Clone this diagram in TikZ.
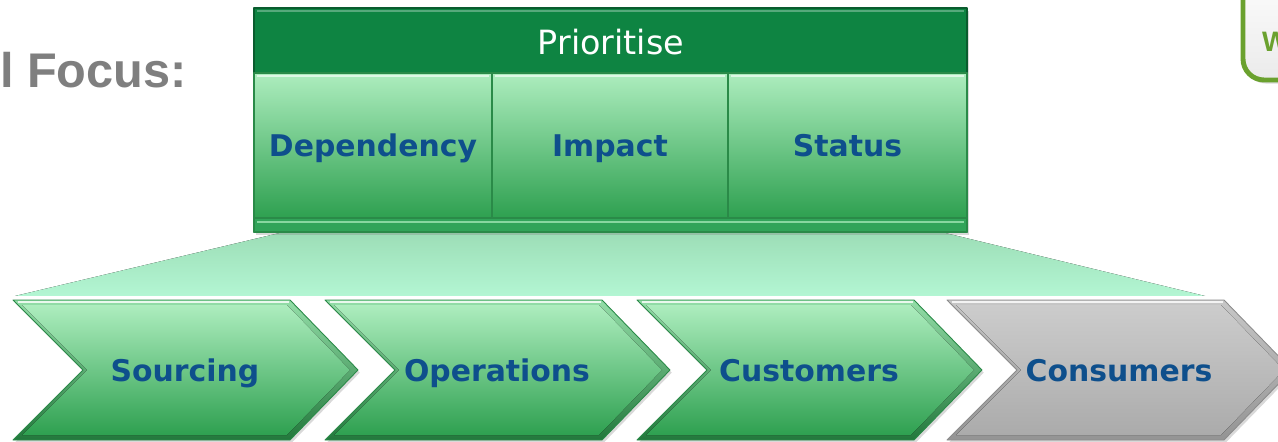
\documentclass[tikz,border=0pt]{standalone}
\usepackage{fontspec}
\setmainfont{DejaVu Sans}
\newfontfamily\arialfont{Liberation Sans}
\usetikzlibrary{shadows}
\definecolor{hdgreen}{HTML}{0E8442}
\definecolor{lblblue}{HTML}{0E4F8C}
\definecolor{focusgray}{HTML}{7F7F7F}
\definecolor{badgegreen}{HTML}{6AA12E}
\definecolor{funtop}{HTML}{9CDDB6}
\definecolor{funbot}{HTML}{B3F6D3}
\definecolor{gtop}{HTML}{ADEDBE}
\definecolor{gbot}{HTML}{2EA050}
\definecolor{gedge}{HTML}{2A8A48}
\definecolor{bargreen}{HTML}{31A459}
\begin{document}
\begin{tikzpicture}[x=0.02cm, y=-0.02cm, line join=round,
    lbl/.style={anchor=base, font=\fontsize{17}{19}\selectfont\bfseries, text=lblblue},
    col/.style={top color=gtop, bottom color=gbot, draw=gedge, line width=0.6pt},
    shd/.style={drop shadow={opacity=0.3, shadow xshift=1pt, shadow yshift=-1.5pt}},
    chevgreen/.style={top color=gtop!80!gbot, bottom color=gbot!75!black, draw=gedge, line width=0.5pt, shd},
    chevgreenin/.style={top color=gtop, bottom color=gbot},
    chevgrey/.style={top color=black!22, bottom color=black!42, draw=black!45, line width=0.5pt, shd},
    chevgreyin/.style={top color=black!20, bottom color=black!33}]
  \useasboundingbox (0,0) rectangle (1278,442);
  \clip (0,0) rectangle (1278,442);
  % heading and badge
  \node[anchor=base east, text=focusgray, font=\arialfont\bfseries\fontsize{27.7}{30}\selectfont] (focus) at (193,88) {l Focus:};
  \draw[line width=2.8pt, draw=badgegreen, top color=white, bottom color=black!8, rounded corners=12pt,
      drop shadow={opacity=0.3, shadow xshift=1pt, shadow yshift=-2pt}] (1243,-40) rectangle (1320,80);
  \node[anchor=base west, text=badgegreen, font=\arialfont\bfseries\fontsize{16}{18}\selectfont] (badge) at (1256,52) {W};
  % funnel
  \fill[top color=funtop, bottom color=funbot] (288,231) -- (937,231) -- (1205,296) -- (15,296) -- cycle;
  % prioritise box
  \draw[fill=hdgreen, draw=hdgreen!70!black, line width=0.6pt, shd] (254,8) rectangle (967,232);
  \draw[white, opacity=.3, line width=1.5pt] (257,11) -- (964,11);
  \node[anchor=base, text=white, font=\fontsize{19}{21}\selectfont] (prio) at (611,55) {Prioritise};
  \foreach \l/\r/\t/\n in {254/492/Dependency/dep, 492/728/Impact/imp, 728/967/Status/stat}{
    \draw[col] (\l,73) rectangle (\r,218);
    \draw[white, opacity=.6, line width=1.5pt] (\l+3,76) -- (\r-3,76);
    \node[lbl] (\n) at ({(\l+\r)/2},157) {\t};
  }
  \draw[fill=bargreen, draw=gedge, line width=0.6pt] (254,218) rectangle (967,232);
  \draw[gtop!70!bargreen, line width=1.5pt] (257,222) -- (964,222);
  % chain
  \foreach \L/\t/\n/\c in {13/Sourcing/src/chevgreen, 325/Operations/ops/chevgreen,
      637/Customers/cust/chevgreen, 947/Consumers/cons/chevgrey}{
    \draw[\c] (\L,300) -- ++(277,0) -- ++(68,70) -- ++(-68,70) -- ++(-277,0) -- ++(70,-70) -- cycle;
    \fill[\c in] (\L+9,305) -- ++(265,0) -- ++(63,65) -- ++(-63,65) -- ++(-265,0) -- ++(65,-65) -- cycle;
    \draw[white, opacity=.8, line width=1.5pt] (\L+5,302) -- (\L+276,302);
    \node[lbl] (\n) at (\L+172,381) {\t};
  }
\end{tikzpicture}
\end{document}
